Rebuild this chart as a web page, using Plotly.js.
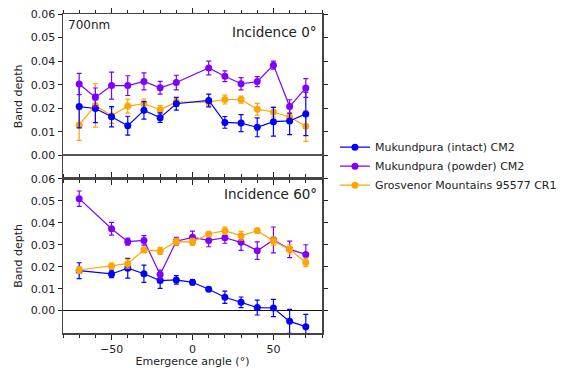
<!DOCTYPE html>
<html>
<head>
<meta charset="utf-8">
<script src="https://cdn.plot.ly/plotly-3.0.1.min.js"></script>
<style>html,body{margin:0;padding:0;background:#fff;}#chart{width:566px;height:368px;}</style>
</head>
<body>
<div id="chart"></div>
<script>
// ---- Data ----
const seriesNames = ["Mukundpura (intact) CM2", "Mukundpura (powder) CM2", "Grosvenor Mountains 95577 CR1"];
const seriesColors = ["#0000ff", "#7f00ff", "#ffa500"];

// Incidence 0°
const angles0 = [-70, -60, -50, -40, -30, -20, -10, 10, 20, 30, 40, 50, 60, 70];
const intact0 = [0.0207, 0.0199, 0.0164, 0.0126, 0.0191, 0.0160, 0.0219, 0.0233, 0.0140, 0.0137, 0.0119, 0.0143, 0.0146, 0.0176];
const intact0Err = [0.0090, 0.0060, 0.0043, 0.0040, 0.0037, 0.0020, 0.0027, 0.0027, 0.0025, 0.0036, 0.0040, 0.0061, 0.0058, 0.0092];
const powder0 = [0.0303, 0.0246, 0.0296, 0.0296, 0.0314, 0.0287, 0.0309, 0.0371, 0.0336, 0.0304, 0.0313, 0.0383, 0.0207, 0.0286];
const powder0Err = [0.0045, 0.0040, 0.0057, 0.0042, 0.0036, 0.0027, 0.0031, 0.0029, 0.0023, 0.0026, 0.0021, 0.0017, 0.0029, 0.0040];
const grosv0 = [0.0129, 0.0212, 0.0168, 0.0209, 0.0219, 0.0194, 0.0226, 0.0226, 0.0237, 0.0237, 0.0196, 0.0184, 0.0163, 0.0124];
const grosv0Err = [0.0065, 0.0092, 0.0032, 0.0030, 0.0020, 0.0017, 0.0014, 0.0013, 0.0019, 0.0015, 0.0025, 0.0021, 0.0019, 0.0065];

// Incidence 60°
const angles60 = [-70, -50, -40, -30, -20, -10, 0, 10, 20, 30, 40, 50, 60, 70];
const intact60 = [0.0182, 0.0167, 0.0193, 0.0168, 0.0137, 0.0140, 0.0129, 0.0097, 0.0061, 0.0038, 0.0014, 0.0012, -0.0049, -0.0073];
const intact60Err = [0.0036, 0.0017, 0.0045, 0.0039, 0.0036, 0.0019, 0.0012, 0.0009, 0.0028, 0.0024, 0.0034, 0.0039, 0.0055, 0.0056];
const powder60 = [0.0510, 0.0373, 0.0314, 0.0320, 0.0164, 0.0316, 0.0334, 0.0320, 0.0332, 0.0311, 0.0273, 0.0322, 0.0279, 0.0256];
const powder60Err = [0.0035, 0.0029, 0.0016, 0.0022, 0.0020, 0.0018, 0.0028, 0.0029, 0.0025, 0.0037, 0.0040, 0.0059, 0.0038, 0.0044];
const grosv60 = [0.0185, 0.0203, 0.0214, 0.0276, 0.0272, 0.0314, 0.0313, 0.0349, 0.0364, 0.0341, 0.0364, 0.0317, 0.0279, 0.0219];
const grosv60Err = [0.0016, 0.0014, 0.0020, 0.0012, 0.0016, 0.0015, 0.0016, 0.0009, 0.0017, 0.0020, 0.0012, 0.0019, 0.0021, 0.0019];

const yTickVals = [0, 0.01, 0.02, 0.03, 0.04, 0.05, 0.06];
const xTickVals = [-50, 0, 50];

// ---- Traces ----
function mk(x, y, err, idx, xa, ya, legend) {
  return {
    x: x, y: y, type: "scatter", mode: "lines+markers",
    name: seriesNames[idx], xaxis: xa, yaxis: ya, showlegend: legend,
    line: {color: seriesColors[idx], width: 1.2},
    marker: {color: seriesColors[idx], size: 7},
    error_y: {type: "data", array: err, visible: true, color: seriesColors[idx], thickness: 1.2, width: 2.5}
  };
}
const traces = [
  mk(angles60, intact60, intact60Err, 0, "x", "y", true),
  mk(angles60, powder60, powder60Err, 1, "x", "y", true),
  mk(angles60, grosv60, grosv60Err, 2, "x", "y", true),
  mk(angles0, grosv0, grosv0Err, 2, "x2", "y2", false),
  mk(angles0, intact0, intact0Err, 0, "x2", "y2", false),
  mk(angles0, powder0, powder0Err, 1, "x2", "y2", false)
];

const font = {family: "DejaVu Sans, sans-serif", size: 11, color: "#222"};
const axLine = "#444";
function xax(extra) {
  return Object.assign({
    range: [-80, 80], tickvals: xTickVals, ticks: "outside", ticklen: 5, tickwidth: 1, tickcolor: "#222",
    minor: {dtick: 10, tick0: 0, ticks: "outside", ticklen: 3, tickcolor: "#222"},
    showgrid: false, zeroline: false, showline: true, linecolor: axLine, linewidth: 1.5,
    mirror: "ticks", tickfont: font
  }, extra);
}
function yax(extra) {
  return Object.assign({
    range: [-0.01, 0.06], tickvals: yTickVals, tickformat: ".2f", ticks: "outside", ticklen: 4,
    tickwidth: 1, tickcolor: "#222", showgrid: false, showline: true, linecolor: axLine, linewidth: 1.5,
    mirror: "ticks", tickfont: font, zeroline: true,
    title: {text: "Band depth", font: font, standoff: 6}
  }, extra);
}
// inside-tick overlays to make ticks cross the frame
function xin(extra) {
  return Object.assign(xax({}), {ticks: "inside", ticklen: 4, showline: false, showticklabels: false,
    minor: {dtick: 10, tick0: 0, ticks: "inside", ticklen: 3, tickcolor: "#222"}}, extra);
}
function yin(extra) {
  return Object.assign(yax({}), {ticks: "inside", ticklen: 4, showline: false, showticklabels: false,
    zeroline: false, title: {text: ""}}, extra);
}

const layout = {
  width: 566, height: 368,
  margin: {l: 63, r: 244, t: 14, b: 35, autoexpand: false},
  paper_bgcolor: "#fff", plot_bgcolor: "#fff",
  font: font,
  showlegend: true,
  legend: {x: 1.05, y: 0.628, xanchor: "left", yanchor: "top", font: {family: "DejaVu Sans, sans-serif", size: 11, color: "#222"},
           bgcolor: "rgba(0,0,0,0)", tracegroupgap: 0, itemwidth: 30},
  xaxis: xax({anchor: "y", domain: [0, 1], title: {text: "Emergence angle (°)", font: font, standoff: 2}}),
  yaxis: yax({anchor: "x", domain: [0, 0.483], range: [-0.0102, 0.06], zerolinecolor: "#111", zerolinewidth: 1}),
  xaxis2: xax({anchor: "y2", domain: [0, 1], showticklabels: false}),
  yaxis2: yax({anchor: "x2", domain: [0.483, 1], zerolinecolor: "#555", zerolinewidth: 2}),
  xaxis3: xin({anchor: "y", overlaying: "x"}),
  yaxis3: yin({anchor: "x", overlaying: "y", domain: [0, 0.483], range: [-0.0102, 0.06]}),
  xaxis4: xin({anchor: "y2", overlaying: "x2"}),
  yaxis4: yin({anchor: "x2", overlaying: "y2", domain: [0.483, 1]}),
  annotations: [
    {xref: "x2 domain", yref: "y2 domain", x: 0.01, y: 0.985, xanchor: "left", yanchor: "top", showarrow: false,
     text: "700nm", font: {family: "DejaVu Sans, sans-serif", size: 12, color: "#222"}},
    {xref: "x2 domain", yref: "y2 domain", x: 0.99, y: 0.95, xanchor: "right", yanchor: "top", showarrow: false,
     text: "Incidence 0°", font: {family: "DejaVu Sans, sans-serif", size: 13.5, color: "#222"}},
    {xref: "x domain", yref: "y domain", x: 0.99, y: 0.965, xanchor: "right", yanchor: "top", showarrow: false,
     text: "Incidence 60°", font: {family: "DejaVu Sans, sans-serif", size: 13.5, color: "#222"}}
  ]
};

Plotly.newPlot("chart", traces, layout, {displayModeBar: false, staticPlot: true});
</script>
</body>
</html>
